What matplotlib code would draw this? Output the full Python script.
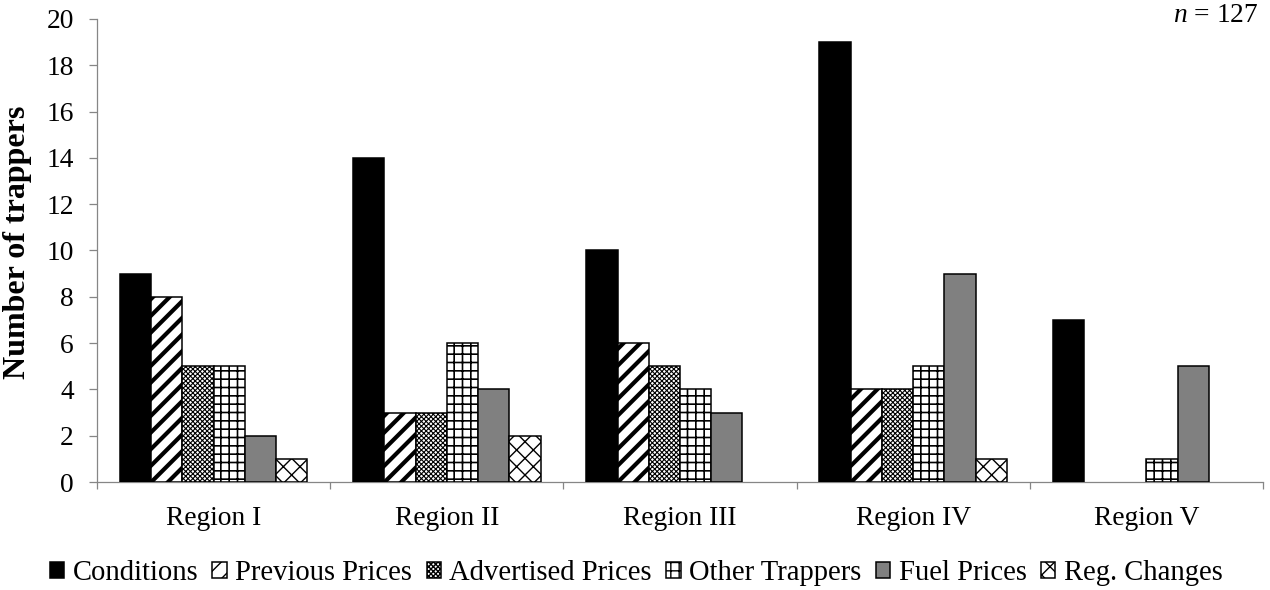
import matplotlib
matplotlib.use("Agg")
import matplotlib.pyplot as plt
import numpy as np

# Survey responses: factors trappers cited, counted by region
regions = ["Region I", "Region II", "Region III", "Region IV", "Region V"]
conditions = [9, 14, 10, 19, 7]
previous_prices = [8, 3, 6, 4, 0]
advertised_prices = [5, 3, 5, 4, 0]
other_trappers = [5, 6, 4, 5, 1]
fuel_prices = [2, 4, 3, 9, 5]
reg_changes = [1, 2, 0, 1, 0]
series_names = ["Conditions", "Previous Prices", "Advertised Prices",
                "Other Trappers", "Fuel Prices", "Reg. Changes"]
y_ticks = [0, 2, 4, 6, 8, 10, 12, 14, 16, 18, 20]
sample_note = "$n$ = 127"

plt.rcParams["font.family"] = ["Liberation Serif", "DejaVu Serif"]
plt.rcParams["mathtext.fontset"] = "custom"
plt.rcParams["mathtext.it"] = "Liberation Serif:italic"
plt.rcParams["mathtext.rm"] = "Liberation Serif"
plt.rcParams["hatch.color"] = "black"

FS = 19.8
AXIS_GREY = "#868686"

fig = plt.figure(figsize=(12.7, 5.9), dpi=100)
ax = fig.add_axes([97 / 1270, 1 - 482 / 590, (1263 - 97) / 1270, (482 - 19) / 590])

series = [conditions, previous_prices, advertised_prices,
          other_trappers, fuel_prices, reg_changes]
styles = [
    dict(color="black", hatch=None, hlw=1.0),
    dict(color="white", hatch="//", hlw=3.0),
    dict(color="white", hatch="xxxxxxx", hlw=0.8),
    dict(color="white", hatch="++", hlw=1.2),
    dict(color="#808080", hatch=None, hlw=1.0),
    dict(color="white", hatch="xx", hlw=1.0),
]

x = np.arange(len(regions))
width = 0.134
handles = []
for i, (vals, st) in enumerate(zip(series, styles)):
    plt.rcParams["hatch.linewidth"] = st["hlw"]
    bars = ax.bar(x + (i - 2.5) * width, vals, width,
                  color=st["color"], edgecolor="black", linewidth=1.1,
                  hatch=st["hatch"], label=series_names[i], zorder=3)
    for p, v in zip(bars.patches, vals):
        if hasattr(p, "set_hatch_linewidth"):
            p.set_hatch_linewidth(st["hlw"])
        if v == 0:
            p.set_visible(False)
    handles.append(bars)
plt.rcParams["hatch.linewidth"] = 1.0

ax.set_xlim(-0.5, len(regions) - 0.5)
ax.set_ylim(0, 20)
ax.set_yticks(y_ticks)
ax.set_xticks(x)
ax.set_xticklabels(regions)
ax.set_xticks(np.arange(len(regions) + 1) - 0.5, minor=True)

for side in ("top", "right"):
    ax.spines[side].set_visible(False)
for side in ("left", "bottom"):
    ax.spines[side].set_color(AXIS_GREY)
    ax.spines[side].set_linewidth(0.9)

ax.tick_params(axis="y", direction="out", length=5.8, width=0.9,
               color=AXIS_GREY, labelsize=FS, pad=11)
ax.tick_params(axis="x", which="major", length=0, labelsize=FS, pad=17)
ax.tick_params(axis="x", which="minor", direction="out", length=5.2,
               width=0.9, color=AXIS_GREY)

ax.set_ylabel("Number of trappers", fontsize=23, fontweight="bold")
ax.yaxis.set_label_coords(-(97 - 32) / (1263 - 97), 0.518)

fig.text(1258 / 1270, 1 - 15 / 590, sample_note, ha="right", va="center",
         fontsize=FS)

leg = fig.legend(handles=handles, labels=series_names, loc="center",
                 bbox_to_anchor=(636 / 1270, 1 - 573 / 590), ncol=6,
                 frameon=False, fontsize=20.6, handlelength=0.5,
                 handleheight=0.5, handletextpad=0.3, columnspacing=0.5,
                 borderpad=0, borderaxespad=0)

fig.savefig("out.png", dpi=100)
